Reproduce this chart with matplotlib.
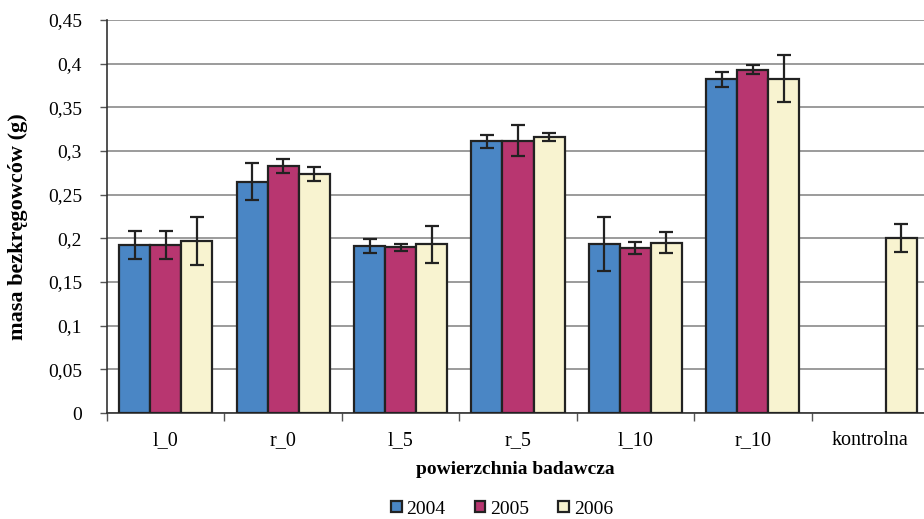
import matplotlib
matplotlib.use("Agg")
import matplotlib.pyplot as plt
import numpy as np

categories = ["l_0", "r_0", "l_5", "r_5", "l_10", "r_10", "kontrolna"]
years = ["2004", "2005", "2006"]
v2004 = [0.192, 0.265, 0.191, 0.311, 0.194, 0.382, np.nan]
v2005 = [0.192, 0.283, 0.190, 0.312, 0.189, 0.393, np.nan]
v2006 = [0.197, 0.274, 0.193, 0.316, 0.195, 0.383, 0.200]
e2004 = [0.016, 0.021, 0.008, 0.007, 0.031, 0.009, np.nan]
e2005 = [0.016, 0.008, 0.004, 0.018, 0.007, 0.005, np.nan]
e2006 = [0.027, 0.008, 0.021, 0.005, 0.012, 0.027, 0.016]
yticks = [0, 0.05, 0.1, 0.15, 0.2, 0.25, 0.3, 0.35, 0.4, 0.45]
ytick_labels = ["0", "0,05", "0,1", "0,15", "0,2", "0,25", "0,3", "0,35", "0,4", "0,45"]
colors = ["#4A86C5", "#B83670", "#F8F3D0"]

plt.rcParams['font.family'] = ['Liberation Serif', 'DejaVu Serif']

fig = plt.figure(figsize=(9.24, 5.19), dpi=100)
ax = fig.add_axes([107/924, 1 - 413/519, 822/924, 393/519])

x = np.arange(len(categories))
w = 0.264
for i, (vals, errs) in enumerate(zip([v2004, v2005, v2006], [e2004, e2005, e2006])):
    ax.bar(x + (i - 1) * w, vals, w, color=colors[i], edgecolor="#222222",
           linewidth=1.6, label=years[i], zorder=3)
    ax.errorbar(x + (i - 1) * w, vals, yerr=errs, fmt="none", ecolor="#222222",
                elinewidth=1.6, capsize=5, capthick=1.6, zorder=4)

ax.set_xlim(-0.5, len(categories) - 0.5)
ax.set_ylim(0, 0.45)
ax.set_yticks(yticks)
ax.set_yticklabels(ytick_labels, fontsize=14)
ax.yaxis.grid(True, color="#8a8a8a", linewidth=1.2, zorder=0)
ax.set_axisbelow(True)

ax.set_xticks(x)
ax.set_xticklabels(categories, fontsize=14.5)
ax.tick_params(axis="x", which="major", length=0, pad=13)
ax.set_xticks(np.arange(-0.5, len(categories), 1), minor=True)
ax.tick_params(axis="x", which="minor", length=6, width=1, color="#555555", direction="out")
ax.tick_params(axis="y", length=5, width=1, color="#555555", direction="out", pad=13)

for s in ["top", "right"]:
    ax.spines[s].set_visible(False)
ax.spines["left"].set_color("#333333")
ax.spines["bottom"].set_color("#333333")
ax.spines["left"].set_linewidth(1.2)
ax.spines["bottom"].set_linewidth(1.2)

fig.text(515/924, 1 - 469/519, "powierzchnia badawcza", ha="center", va="center",
         fontsize=14, fontweight="bold")
fig.text(18/924, 1 - 227/519, "masa bezkręgowców (g)", ha="center", va="center",
         rotation=90, fontsize=16, fontweight="bold")

leg = fig.legend(loc="center", bbox_to_anchor=(502/924, 1 - 509/519), ncol=3, frameon=False,
                 fontsize=14, handlelength=0.55, handleheight=0.55, handletextpad=0.25,
                 columnspacing=1.5)

fig.savefig("out.png", dpi=100)
